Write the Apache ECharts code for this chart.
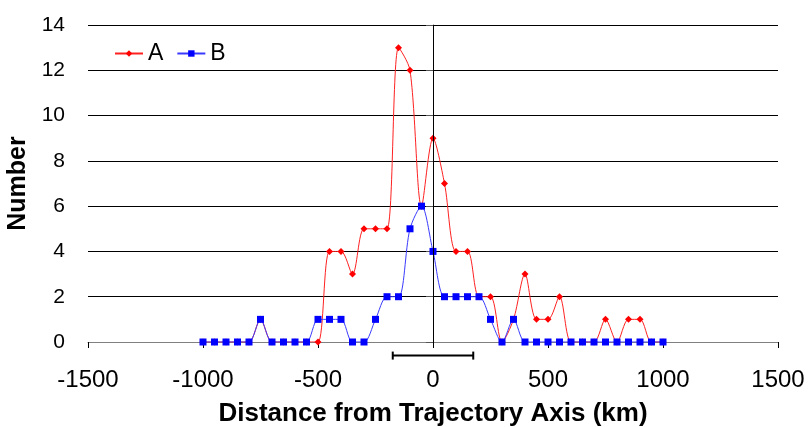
<!DOCTYPE html>
<html><head><meta charset="utf-8">
<script src="https://cdn.jsdelivr.net/npm/echarts@6/dist/echarts.min.js"></script>
<style>html,body{margin:0;padding:0;background:#fff}#c{width:811px;height:427px}</style>
</head><body><div id="c"></div>
<script>
var xValues = [-1000,-950,-900,-850,-800,-750,-700,-650,-600,-550,-500,-450,-400,-350,-300,-250,-200,-150,-100,-50,0,50,100,150,200,250,300,350,400,450,500,550,600,650,700,750,800,850,900,950,1000];
var seriesA = [0,0,0,0,0,1,0,0,0,0,0,4,4,3,5,5,5,13,12,6,9,7,4,4,2,2,0,1,3,1,1,2,0,0,0,1,0,1,1,0,0];
var seriesB = [0,0,0,0,0,1,0,0,0,0,1,1,1,0,0,1,2,2,5,6,4,2,2,2,2,1,0,1,0,0,0,0,0,0,0,0,0,0,0,0,0];
var errorBar = {from:-175, to:175, y:-0.6};
var font = 'Liberation Sans, Arial, sans-serif';

function pairs(v){ return xValues.map(function(x,i){return [x,v[i]];}); }

var chart = echarts.init(document.getElementById('c'));
chart.setOption({
  animation:false,
  backgroundColor:'#fff',
  grid:{left:88,right:33,top:25,bottom:85,outerBoundsMode:'none',containLabel:false},
  legend:{
    left:109, top:37, itemWidth:28, itemHeight:8, itemGap:13,
    textStyle:{fontFamily:font,fontSize:23,color:'#000'},
    data:['A','B']
  },
  xAxis:{
    type:'value', min:-1500, max:1500, interval:500,
    name:'Distance from Trajectory Axis (km)', nameLocation:'middle', nameGap:59,
    nameTextStyle:{fontFamily:font,fontSize:26,fontWeight:'bold',color:'#000'},
    axisLine:{onZero:true,lineStyle:{color:'#808080',width:1}},
    axisTick:{show:true,length:6,lineStyle:{color:'#000'}},
    axisLabel:{fontFamily:font,fontSize:24,color:'#000',margin:26,
      formatter:function(v){return String(v);}},
    splitLine:{show:false}
  },
  yAxis:{
    type:'value', min:0, max:14, interval:2,
    name:'Number', nameLocation:'middle', nameGap:51,
    nameTextStyle:{fontFamily:font,fontSize:25,fontWeight:'bold',color:'#000'},
    axisLine:{show:true,lineStyle:{color:'#555',width:1}},
    axisTick:{show:true,length:7,lineStyle:{color:'#555'}},
    axisLabel:{fontFamily:font,fontSize:21,color:'#000',margin:23},
    splitLine:{show:true,lineStyle:{color:'#000',width:1}}
  },
  series:[
    {
      name:'A', type:'line', smooth:0.3, data:pairs(seriesA),
      symbol:'diamond', symbolSize:7,
      itemStyle:{color:'#ff0000'},
      lineStyle:{color:'#ff2020',width:1},
      markLine:{
        silent:true, symbol:['none','none'], label:{show:false},
        lineStyle:{color:'#000',width:1,type:'solid'},
        data:[[{coord:[0,0]},{coord:[0,14]}]]
      },
      z:3
    },
    {
      name:'B', type:'line', smooth:0.3, data:pairs(seriesB),
      symbol:'rect', symbolSize:7,
      itemStyle:{color:'#0000ff'},
      lineStyle:{color:'#3a3aff',width:1},
      z:4
    },
    {
      type:'custom', clip:false, silent:true,
      data:[[errorBar.from, errorBar.to, errorBar.y]],
      renderItem:function(params, api){
        var a = api.coord([api.value(0), api.value(2)]);
        var b = api.coord([api.value(1), api.value(2)]);
        var st = {stroke:'#000', lineWidth:2};
        return {type:'group', children:[
          {type:'line', shape:{x1:a[0],y1:a[1],x2:b[0],y2:b[1]}, style:st},
          {type:'line', shape:{x1:a[0],y1:a[1]-4,x2:a[0],y2:a[1]+4}, style:st},
          {type:'line', shape:{x1:b[0],y1:b[1]-4,x2:b[0],y2:b[1]+4}, style:st}
        ]};
      }
    }
  ]
});
</script>
</body></html>
